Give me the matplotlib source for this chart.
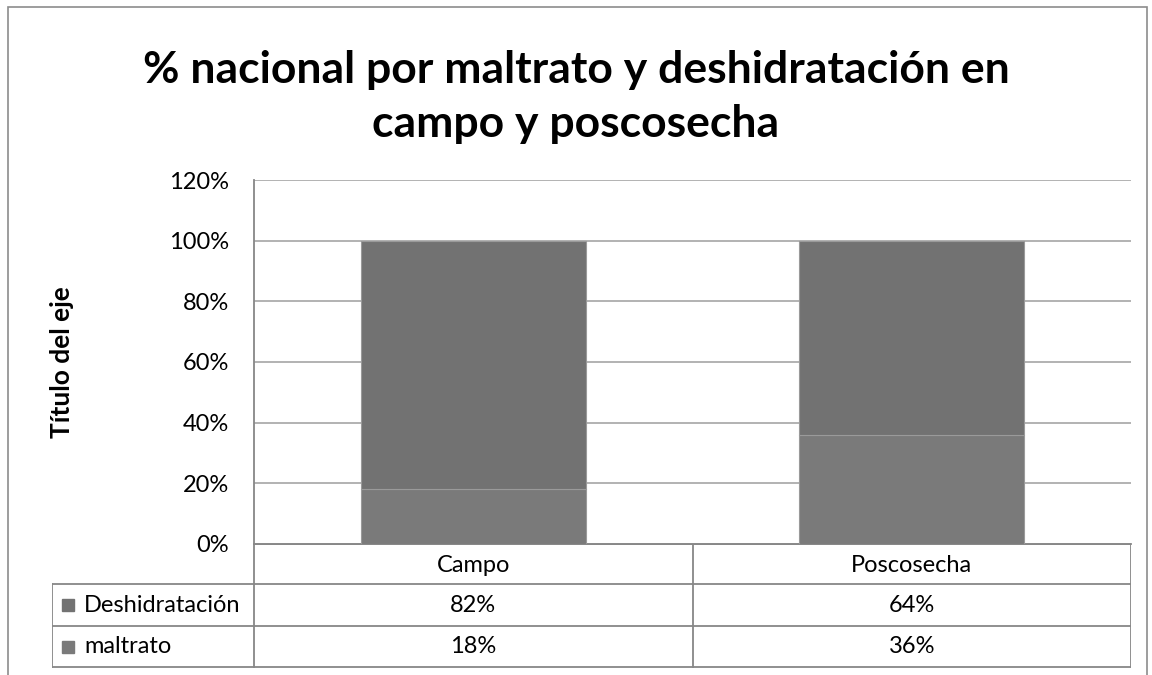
import numpy as np
import matplotlib
matplotlib.use("Agg")
import matplotlib.pyplot as plt
from matplotlib.patches import Rectangle

plt.rcParams['font.family'] = ['Lato', 'DejaVu Sans']

categorias = ["Campo", "Poscosecha"]
series = ["Deshidratación", "maltrato"]
deshidratacion = [82, 64]
maltrato = [18, 36]
yticks = [0, 20, 40, 60, 80, 100, 120]

W, H = 1152, 675
fig = plt.figure(figsize=(W / 100, H / 100), dpi=100)

def px(x0, y0, x1, y1):
    # caja en pixeles (origen arriba-izquierda) -> coords de figura
    return [x0 / W, 1 - y1 / H, (x1 - x0) / W, (y1 - y0) / H]

# marco exterior del grafico
fig.patches.append(Rectangle((8 / W, -0.01), (1147 - 8) / W, 1.01 - 7 / H, transform=fig.transFigure,
                             fill=False, edgecolor='#8c8c8c', lw=1.2))

fig.text(0.5, 1 - 97 / H, "% nacional por maltrato y deshidratación en\ncampo y poscosecha",
         ha='center', va='center', fontsize=32, fontweight='bold', linespacing=1.4)

ax = fig.add_axes(px(254, 180, 1131, 544))
x = np.arange(len(categorias))
c_des, c_mal = '#727272', '#7a7a7a'
ax.bar(x, maltrato, width=0.513, color=c_mal, edgecolor='#9a9a9a', lw=0.8, zorder=3)
ax.bar(x, deshidratacion, width=0.513, bottom=maltrato, color=c_des, edgecolor='#9a9a9a', lw=0.8, zorder=3)
ax.set_xlim(-0.5, len(categorias) - 0.5)
ax.set_ylim(0, 120)
ax.set_yticks(yticks)
ax.set_yticklabels([f"{v}%" for v in yticks], fontsize=17)
ax.yaxis.grid(True, color='#a6a6a6', lw=1.2, zorder=0)
ax.set_xticks([])
ax.tick_params(axis='y', length=0, pad=18)
for s in ['top', 'right']:
    ax.spines[s].set_visible(False)
for s in ['left', 'bottom']:
    ax.spines[s].set_color('#878787')
    ax.spines[s].set_linewidth(1.3)
ax.set_ylabel("Título del eje", fontsize=19, fontweight='bold', labelpad=68)

# tabla de datos
tx = fig.add_axes(px(52, 544, 1131, 676))
tx.set_xlim(52, 1131)
tx.set_ylim(676, 544)
tx.axis('off')
lc, lw = '#878787', 1.3
col_w = (1131 - 254) / len(categorias)
rows_y = [544, 584, 626, 667]
tx.plot([254, 1131], [544, 544], color=lc, lw=lw)
for yy in rows_y[1:]:
    tx.plot([52, 1131], [yy, yy], color=lc, lw=lw)
tx.plot([1131, 1131], [544, 667], color=lc, lw=lw)
tx.plot([254, 254], [544, 667], color=lc, lw=lw)
tx.plot([52, 52], [584, 667], color=lc, lw=lw)
for i in range(1, len(categorias)):
    xx = 254 + i * col_w
    tx.plot([xx, xx], [544, 667], color=lc, lw=lw)
for i, c in enumerate(categorias):
    tx.text(254 + (i + 0.5) * col_w, 565, c, ha='center', va='center', fontsize=17)
valores = [deshidratacion, maltrato]
colores = [c_des, c_mal]
for r, (nombre, vals, col) in enumerate(zip(series, valores, colores)):
    yc = (rows_y[r + 1] + rows_y[r + 2]) / 2
    tx.add_patch(Rectangle((62, yc - 6), 12, 12, color=col))
    tx.text(84, yc, nombre, ha='left', va='center', fontsize=17)
    for i, v in enumerate(vals):
        tx.text(254 + (i + 0.5) * col_w, yc, f"{v}%", ha='center', va='center', fontsize=17)

fig.savefig("out.png", dpi=100)
